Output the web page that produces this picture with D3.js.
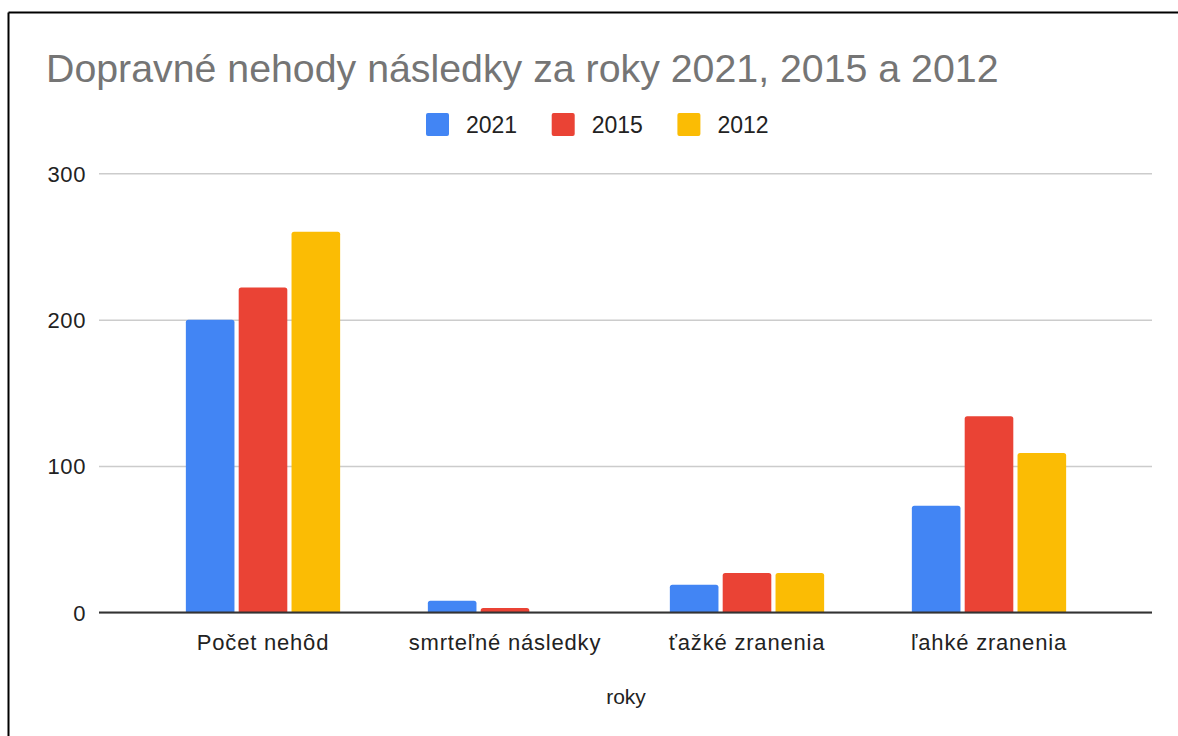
<!DOCTYPE html>
<html>
<head>
<meta charset="utf-8">
<script src="https://cdn.jsdelivr.net/npm/d3@7"></script>
<style>
  html, body { margin: 0; padding: 0; background: #fff; overflow: hidden; }
  svg { display: block; font-family: Arial, "Liberation Sans", sans-serif; }
</style>
</head>
<body>
<svg id="chart" width="1178" height="736"></svg>
<script>
// Categories (x axis) and the three yearly series
const categories = ["Počet nehôd", "smrteľné následky", "ťažké zranenia", "ľahké zranenia"];
const seriesNames = ["2021", "2015", "2012"];
const values2021 = [200, 8, 19, 73];
const values2015 = [222, 3, 27, 134];
const values2012 = [260, 0, 27, 109];
const yTicks = [0, 100, 200, 300];
const colors = ["#4285F4", "#EA4335", "#FBBC04"];

const seriesValues = [values2021, values2015, values2012];
const rows = categories.map((c, i) => ({
  category: c,
  values: seriesNames.map((s, j) => ({ series: s, value: seriesValues[j][i], color: colors[j] }))
}));

const svg = d3.select("#chart");

// Frame lines along the top and left edge
svg.append("line")
  .attr("x1", 8.5).attr("x2", 1178).attr("y1", 12.5).attr("y2", 12.5)
  .attr("stroke", "#000").attr("stroke-width", 2);
svg.append("line")
  .attr("x1", 8.5).attr("x2", 8.5).attr("y1", 12.5).attr("y2", 736)
  .attr("stroke", "#000").attr("stroke-width", 2);

// Title
svg.append("text")
  .attr("x", 46).attr("y", 82)
  .attr("fill", "#757575")
  .attr("font-size", 39.3)
  .text("Dopravné nehody následky za roky 2021, 2015 a 2012");

// Legend
const legend = svg.append("g");
seriesNames.forEach((s, i) => {
  const g = legend.append("g").attr("transform", `translate(${426 + i * 125.7},113)`);
  g.append("rect").attr("width", 23).attr("height", 23).attr("rx", 2).attr("fill", colors[i]);
  g.append("text").attr("x", 40).attr("y", 20).attr("font-size", 23).attr("fill", "#222").text(s);
});

// Scales
const gridLeft = 99, gridRight = 1152;
const y = d3.scaleLinear().domain([0, 300]).range([612.5, 173.3]);
const x0 = d3.scaleBand().domain(categories).range([142, 1110]).paddingInner(0.345).paddingOuter(0.1725);
const x1 = d3.scaleBand().domain(seriesNames).range([0, x0.bandwidth()]).paddingInner(0.08).paddingOuter(0.04);

// Horizontal gridlines and value labels
const yAxis = d3.axisLeft(y).tickValues(yTicks).tickSize(-(gridRight - gridLeft)).tickPadding(13).tickFormat(d3.format("d"));
const yg = svg.append("g").attr("transform", `translate(${gridLeft},0)`).call(yAxis);
yg.select(".domain").remove();
yg.selectAll(".tick line").attr("stroke", "#cccccc").attr("stroke-width", 1.5);
yg.selectAll(".tick text")
  .attr("font-size", 22).attr("fill", "#222").attr("font-family", "Arial, 'Liberation Sans', sans-serif")
  .attr("letter-spacing", 0.6).attr("dy", "0.35em");

// Bars with slightly rounded top corners
function barPath(x, yTop, w, yBase, r) {
  const h = yBase - yTop;
  if (h <= 0) return "";
  r = Math.min(r, h, w / 2);
  return `M${x},${yBase}V${yTop + r}Q${x},${yTop} ${x + r},${yTop}H${x + w - r}Q${x + w},${yTop} ${x + w},${yTop + r}V${yBase}Z`;
}

const groups = svg.append("g").selectAll("g").data(rows).join("g")
  .attr("transform", d => `translate(${x0(d.category)},0)`);
groups.selectAll("path").data(d => d.values).join("path")
  .attr("d", d => barPath(x1(d.series), y(d.value), x1.bandwidth(), y(0), 2.5))
  .attr("fill", d => d.color);

// Baseline
svg.append("line")
  .attr("x1", gridLeft).attr("x2", gridRight)
  .attr("y1", y(0)).attr("y2", y(0))
  .attr("stroke", "#333").attr("stroke-width", 2);

// Category axis labels
const xAxis = d3.axisBottom(x0).tickSize(0).tickPadding(22);
const xg = svg.append("g").attr("transform", `translate(0,${y(0)})`).call(xAxis);
xg.select(".domain").remove();
xg.selectAll(".tick text")
  .attr("font-size", 22).attr("fill", "#222").attr("font-family", "Arial, 'Liberation Sans', sans-serif")
  .attr("letter-spacing", 0.8);

// Axis title
svg.append("text")
  .attr("x", (142 + 1110) / 2).attr("y", 704)
  .attr("text-anchor", "middle")
  .attr("font-size", 21).attr("fill", "#222")
  .text("roky");
</script>
</body>
</html>
